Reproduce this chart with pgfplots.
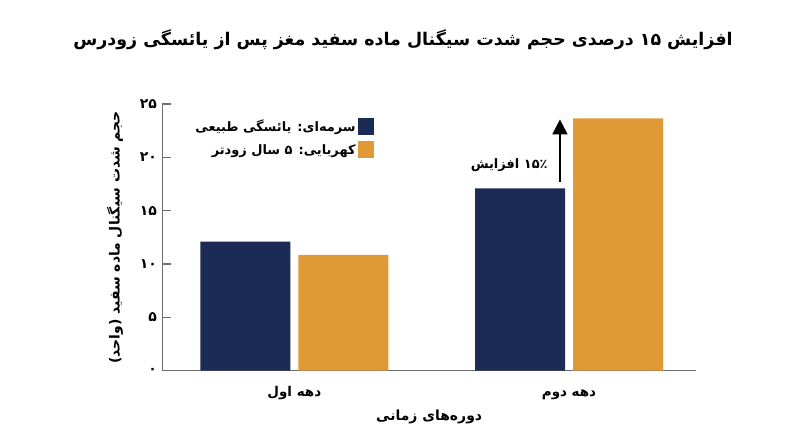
\documentclass[border=0pt]{standalone}
\usepackage{fontspec}
\usepackage{pgfplots}
\pgfplotsset{compat=1.18}
\usetikzlibrary{arrows.meta}
\TeXXeTstate=1
\newfontfamily\arabicfont[Script=Arabic]{DejaVu Sans}
\newcommand{\fa}[1]{{\arabicfont\bfseries\beginR #1\endR}}
\definecolor{navy}{HTML}{1C2B55}
\definecolor{amber}{HTML}{DF9A37}
\definecolor{axgray}{HTML}{6E6E6E}

\begin{document}
\begin{tikzpicture}
\useasboundingbox (0,0) rectangle (800bp,447bp);
\node[font=\fontsize{17.5}{20}\selectfont] at (403bp,407bp)
  {\fa{افزایش ۱۵ درصدی حجم شدت سیگنال ماده سفید مغز پس از یائسگی زودرس}};
\begin{axis}[
    at={(162.3bp,76.3bp)}, anchor=south west,
    scale only axis, width=533.7bp, height=266.7bp,
    xmin=-0.4805, xmax=1.4623, ymin=0, ymax=25,
    axis lines*=left,
    axis line style={axgray, line width=1.1pt},
    tick align=inside,
    major tick length=9bp,
    ytick={0,5,10,15,20,25},
    yticklabels={۰,۵,۱۰,۱۵,۲۰,۲۵},
    yticklabel style={font=\fontsize{14}{16}\selectfont\arabicfont\bfseries, xshift=-2bp},
    ytick style={axgray, line width=1.1pt},
    xtick={0,1},
    xticklabels={\fa{دهه اول},\fa{دهه دوم}},
    xticklabel style={font=\fontsize{13.5}{15}\selectfont, anchor=base, yshift=-26bp},
    xtick style={draw=none},
    extra x ticks={1.4623},
    extra x tick labels={},
    extra x tick style={tick style={draw=axgray, line width=1.1pt}, major tick length=7bp},
    xlabel={\fa{دوره‌های زمانی}},
    xlabel style={font=\fontsize{14}{16}\selectfont, at={(axis description cs:0.5,-0.185)}, anchor=base},
    ylabel={\fa{حجم شدت سیگنال ماده سفید (واحد)}},
    ylabel style={font=\fontsize{14}{16}\selectfont, at={(axis description cs:-0.0886,0.5)}, anchor=center, rotate=0},
    legend style={draw=none, fill=none, at={(axis description cs:0.402,0.955)}, anchor=north east,
      font=\fontsize{13}{15}\selectfont, row sep=6bp},
    legend cell align=right,
    legend plot pos=right,
    legend image code/.code={\fill[#1] (0bp,-8.5bp) rectangle (16bp,8.5bp);},
    clip=false,
]
\addplot[ybar, bar width=90bp, bar shift=-49bp, fill=navy, draw=none]
  coordinates {(0,12.1) (1,17.1)};
\addlegendentry{\fa{سرمه‌ای: یائسگی طبیعی}}
\addplot[ybar, bar width=90bp, bar shift=49bp, fill=amber, draw=none]
  coordinates {(0,10.85) (1,23.66)};
\addlegendentry{\fa{کهربایی: ۵ سال زودتر}}
\draw[line width=2pt, -{Triangle[length=15bp,width=15bp]}] (axis cs:0.967,17.69) -- (axis cs:0.967,23.55);
\node[anchor=east, font=\fontsize{13}{15}\selectfont] at (axis cs:0.935,19.28) {\fa{۱۵٪ افزایش}};
\end{axis}
\end{tikzpicture}
\end{document}
